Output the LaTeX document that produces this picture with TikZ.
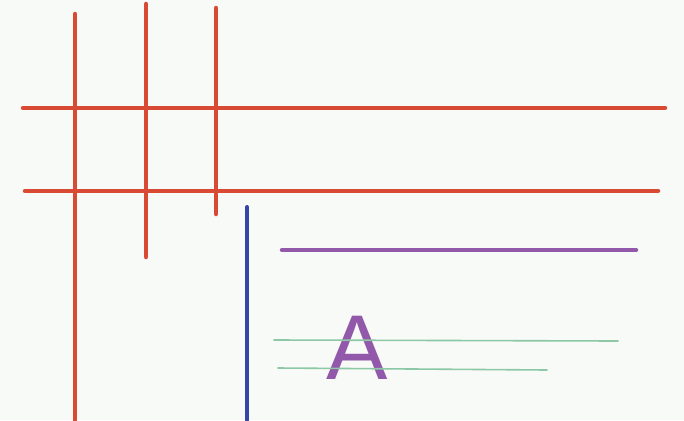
\documentclass[tikz,border=0pt]{standalone}
\usepackage{fontspec}
\newfontfamily\letterfont{Liberation Sans}
\definecolor{gridred}{RGB}{217,74,52}
\definecolor{rulerblue}{RGB}{52,70,170}
\definecolor{markpurple}{RGB}{146,88,170}
\definecolor{textgreen}{RGB}{140,200,165}
\definecolor{paper}{RGB}{248,250,247}

\begin{document}
\begin{tikzpicture}[x=1pt, y=-1pt, line cap=round,
    grid/.style = {draw=gridred, line width=4.5pt},
    margin/.style = {draw=rulerblue, line width=4pt},
    heading/.style = {draw=markpurple, line width=4.5pt},
    textline/.style = {draw=textgreen, line width=1.6pt}]
    \fill[paper] (0,0) rectangle (684,420);
    \useasboundingbox (0,0) rectangle (684,420);
    % red grid
    \draw[grid] (75,14) -- (75,420);
    \draw[grid] (146,4) -- (146,257);
    \draw[grid] (216,8) -- (216,214);
    \draw[grid] (23,108) -- (665,108);
    \draw[grid] (25,191) -- (658,191);
    % margin and lines
    \draw[margin] (247,207) -- (247,420);
    \draw[heading] (282,250) -- (636,250);
    \node[text=markpurple, inner sep=0pt, anchor=base, font=\letterfont\fontsize{92}{92}\selectfont] (letter) at (357,379) {A};
    \draw[textline] (274,340) -- (618,341);
    \draw[textline] (278,368) -- (547,370);
\end{tikzpicture}
\end{document}
